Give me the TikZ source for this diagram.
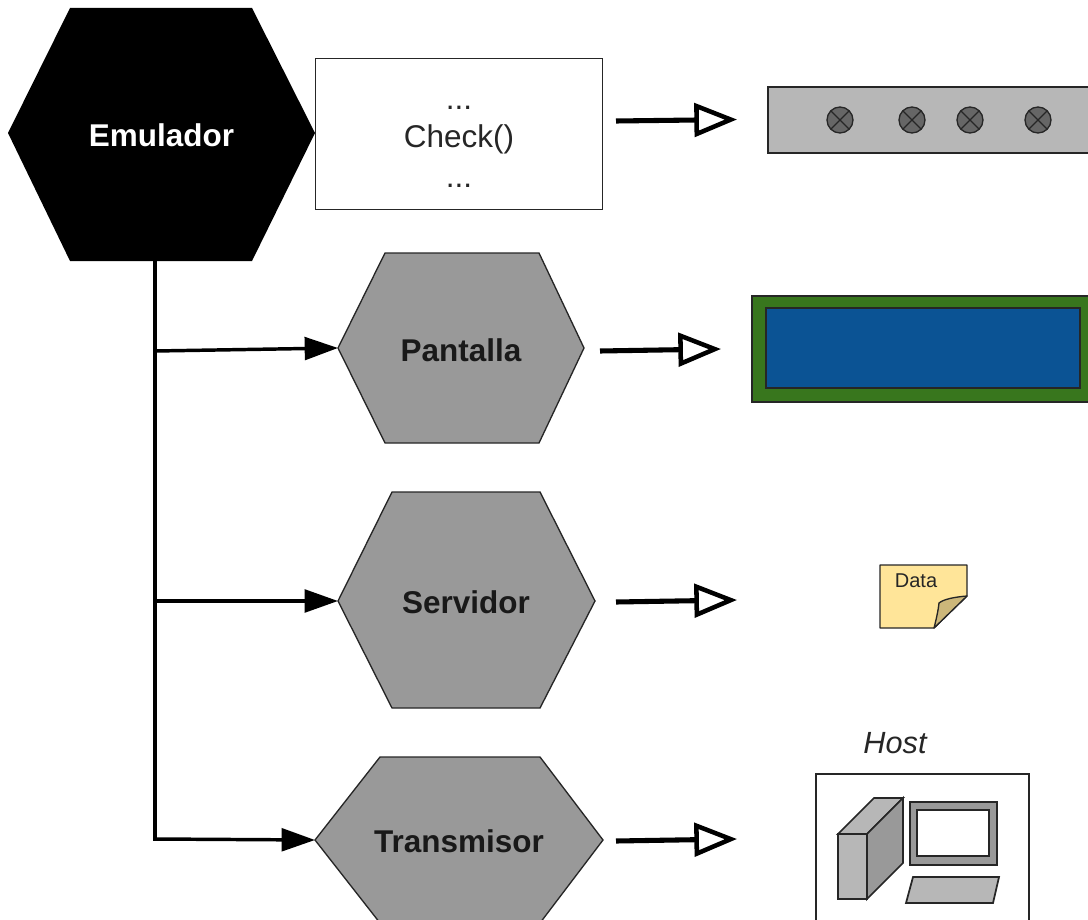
\documentclass[tikz,border=0pt]{standalone}
\usepackage{fontspec}
\setmainfont{Liberation Sans}
\usetikzlibrary{arrows.meta}
\definecolor{hexgray}{HTML}{999999}
\definecolor{ledbar}{HTML}{B7B7B7}
\definecolor{ledgray}{HTML}{666666}
\definecolor{lcdgreen}{HTML}{38761D}
\definecolor{lcdblue}{HTML}{0B5394}
\definecolor{notey}{HTML}{FFE599}
\definecolor{notefold}{HTML}{CCB77A}
\definecolor{pcdark}{HTML}{999999}
\tikzset{
  x=0.75pt,y=-0.75pt,
  edgeline/.style={draw=black!85,line width=1pt},
  grayhex/.style={edgeline,fill=hexgray},
  hexlabel/.style={font=\bfseries\fontsize{23.6}{27}\selectfont,text=black!90,inner sep=0pt},
  checktext/.style={font=\fontsize{23.6}{27}\selectfont,text=black!85,inner sep=0pt},
  feed/.style={line width=2.6pt,-{Triangle[length=25pt,width=17pt,fill=black]}},
  busline/.style={line width=3pt,line cap=butt},
  output/.style={line width=3.8pt,-{Triangle[open,length=32pt,width=25pt,line width=3.4pt,fill=white]}},
  led/.style={draw=black!85,line width=1pt,fill=ledgray},
}
\begin{document}
\begin{tikzpicture}
\useasboundingbox (0,0) rectangle (1088,920);
\clip (0,0) rectangle (1088,920);
% Emulador
\fill[black] (8,133) -- (70,8) -- (252,8) -- (315,133) -- (252,261) -- (70,261) -- cycle;
\node[font=\bfseries\fontsize{23.6}{27}\selectfont,text=white,inner sep=0pt] (emu) at (161.5,135) {Emulador};
\coordinate (emubot) at (155,261);
% Check box
\node[draw=black!85,line width=1pt,fill=white,minimum width=215pt,minimum height=113.5pt,inner sep=0pt] (check) at (459,134) {};
\node[checktext] (checklabel) at (459,139) {Check()};
\node[checktext,anchor=base] (dots1) at (459,110) {...};
\node[checktext,anchor=base] (dots2) at (459,187) {...};
% Hexagons
\draw[grayhex] (338,348) -- (385,253) -- (539,253) -- (584,348) -- (539,443) -- (385,443) -- cycle;
\node[hexlabel] (pan) at (461,350) {Pantalla};
\coordinate (panin) at (338,348);
\draw[grayhex] (338,601) -- (392,492) -- (540,492) -- (595,601) -- (540,708) -- (392,708) -- cycle;
\node[hexlabel] (ser) at (466,602) {Servidor};
\coordinate (serin) at (338,601);
\draw[grayhex] (315,840) -- (380,757) -- (540,757) -- (603,840) -- (540,923) -- (380,923) -- cycle;
\node[hexlabel] (tra) at (459,841) {Transmisor};
\coordinate (train) at (315,840);
% Bus
\coordinate (bus1) at (155,351);
\coordinate (bus2) at (155,601);
\coordinate (bus3) at (155,839);
\draw[busline] (emubot) -- ([yshift=-1.4pt]bus3);
\draw[feed] (bus1) -- (panin);
\draw[feed] (bus2) -- (serin);
\draw[feed] (bus3) -- (train);
% Outputs
\coordinate (o1a) at (616,121); \coordinate (o1b) at (737,119.5);
\coordinate (o2a) at (600,351); \coordinate (o2b) at (721,349);
\coordinate (o3a) at (616,602); \coordinate (o3b) at (737,600);
\coordinate (o4a) at (616,841); \coordinate (o4b) at (737,839);
\draw[output] (o1a) -- (o1b);
\draw[output] (o2a) -- (o2b);
\draw[output] (o3a) -- (o3b);
\draw[output] (o4a) -- (o4b);
% LED bar
\draw[edgeline,fill=ledbar] (768,87) rectangle (1092,153);
\foreach \cx in {840,912,970,1038}{
  \draw[led] (\cx,120) circle[radius=9.75pt];
  \draw[black!85,line width=1pt] (\cx-9,120-9) -- (\cx+9,120+9) (\cx-9,120+9) -- (\cx+9,120-9);
}
% LCD
\draw[edgeline,fill=lcdgreen] (752,296) rectangle (1092,402);
\draw[edgeline,fill=lcdblue] (766,308) rectangle (1080,388);
% Note
\draw[edgeline,line join=round,fill=notey] (880,565) -- (967,565) -- (967,596) -- (934,628) -- (880,628) -- cycle;
\draw[edgeline,line join=round,fill=notefold] (967,596) .. controls (955,597) and (944,599) .. (939,603) .. controls (938,612) and (936,620) .. (934,628) -- cycle;
\node[font=\fontsize{15}{18}\selectfont,text=black!85,inner sep=0pt] (data) at (916,581) {Data};
% Host
\node[font=\itshape\fontsize{23}{27}\selectfont,text=black!85,inner sep=0pt] (host) at (895,743) {Host};
\draw[edgeline,fill=white] (816,774) rectangle (1029,930);
\draw[edgeline,line width=1.3pt,fill=ledbar] (838,834) -- (874,798) -- (903,798) -- (867,834) -- cycle;
\draw[edgeline,line width=1.3pt,fill=pcdark] (867,834) -- (903,798) -- (903,863) -- (867,899) -- cycle;
\draw[edgeline,line width=1.3pt,fill=ledbar] (838,834) rectangle (867,899);
\draw[edgeline,line width=1.3pt,fill=pcdark] (910,802) rectangle (997,865);
\draw[edgeline,line width=1.3pt,fill=white] (917,810) rectangle (989,856);
\draw[edgeline,line width=1.3pt,fill=ledbar] (913,877) -- (999,877) -- (993,903) -- (906,903) -- cycle;
\end{tikzpicture}
\end{document}
